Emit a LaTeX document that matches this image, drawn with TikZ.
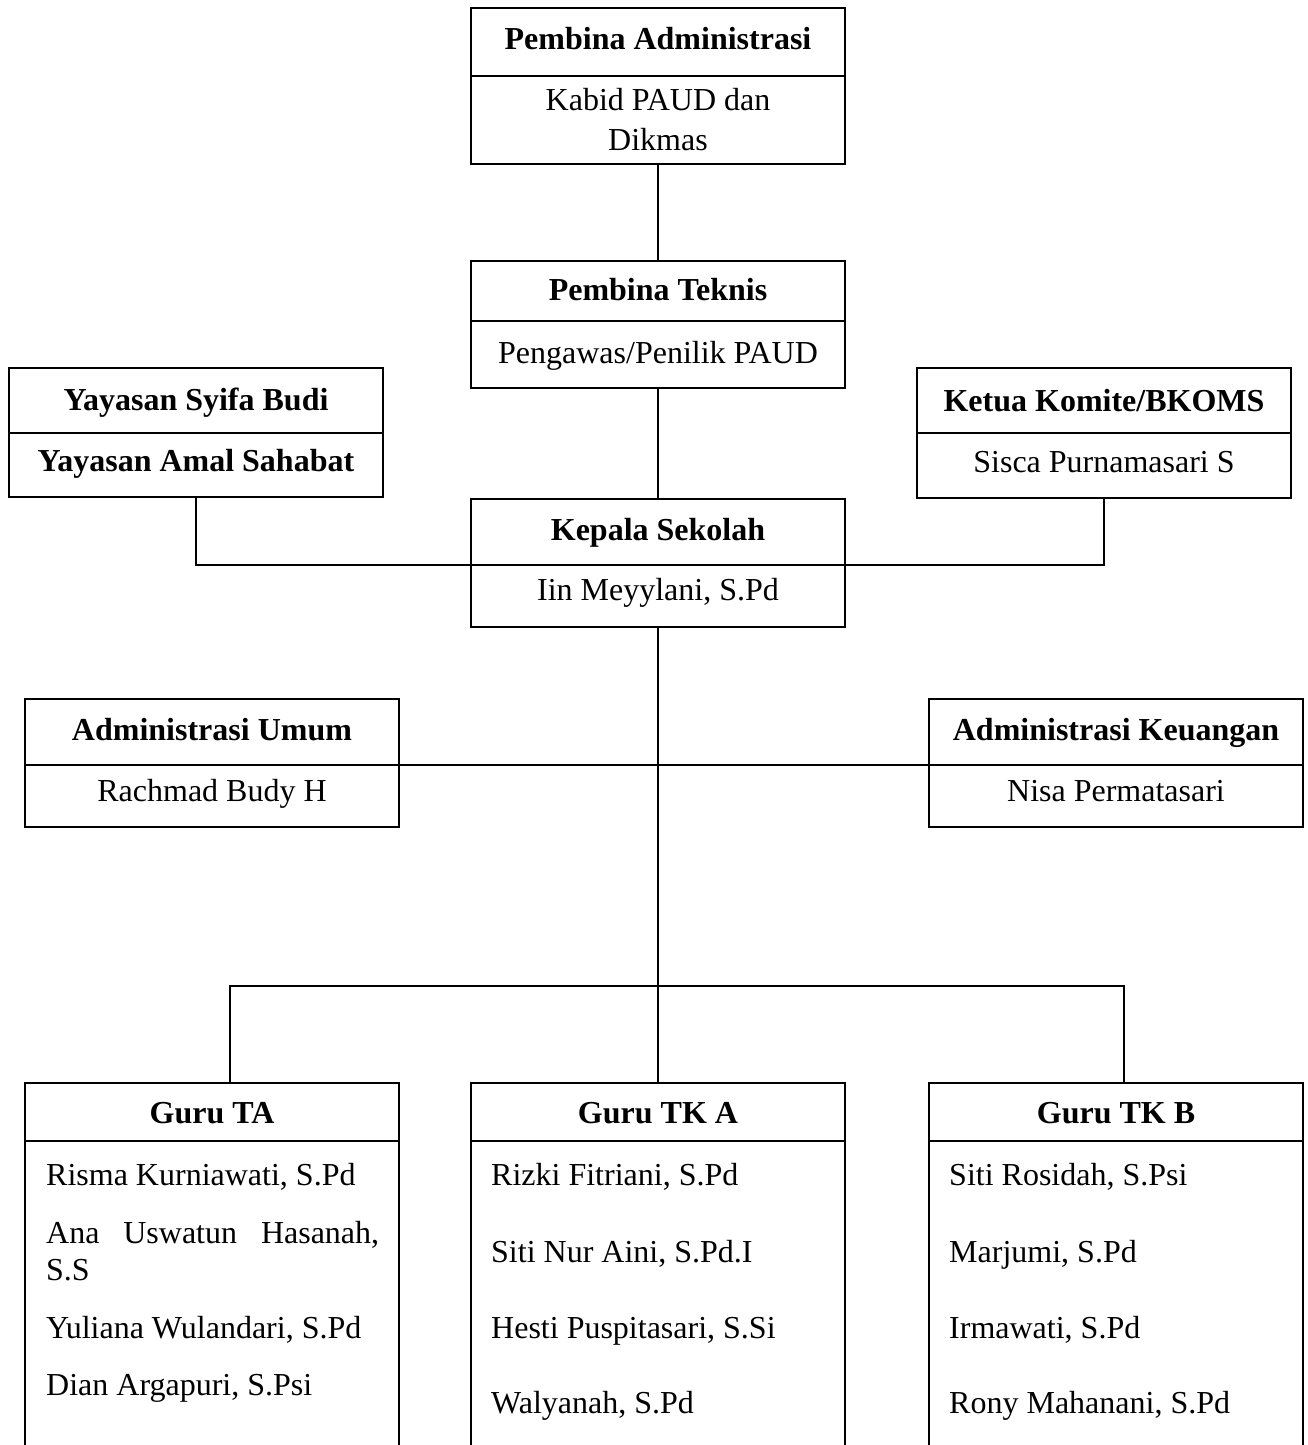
\documentclass[tikz,border=0pt]{standalone}
\usepackage{fontspec}
\setmainfont{Liberation Serif}
\begin{document}
\begin{tikzpicture}[x=1pt,y=-1pt,
  every node/.style={font=\fontsize{32}{40}\selectfont},
  cell/.style={draw, line width=1.2pt, minimum width=374pt, inner sep=0pt, outer sep=0pt},
  ttl/.style={anchor=base, inner sep=0pt, font=\fontsize{32}{40}\selectfont\bfseries},
  txt/.style={anchor=base, inner sep=0pt},
  ltxt/.style={anchor=base west, inner sep=0pt},
  conn/.style={line width=1.2pt}]
\clip (0,0) rectangle (1308,1445);
\useasboundingbox (0,0) rectangle (1308,1445);

% Pembina Administrasi
\node[cell, minimum height=68pt] (pa) at (658,42) {};
\node[cell, minimum height=88pt] (pab) at (658,120) {};
\node[ttl] (paT) at (658,49) {Pembina Administrasi};
\node[txt] (paL1) at (658,110) {Kabid PAUD dan};
\node[txt] (paL2) at (658,150) {Dikmas};

% Pembina Teknis
\node[cell, minimum height=60pt] (pt) at (658,291) {};
\node[cell, minimum height=67pt] (ptb) at (658,354.5) {};
\node[ttl] (ptT) at (658,300) {Pembina Teknis};
\node[txt] (ptL) at (658,363) {Pengawas/Penilik PAUD};

% Yayasan
\node[cell, minimum height=65pt] (y) at (196,400.5) {};
\node[cell, minimum height=64pt] (yb) at (196,465) {};
\node[ttl] (yT) at (196,410) {Yayasan Syifa Budi};
\node[ttl] (yL) at (196,471) {Yayasan Amal Sahabat};

% Ketua Komite
\node[cell, minimum height=65pt] (k) at (1104,400.5) {};
\node[cell, minimum height=65pt] (kb) at (1104,465.5) {};
\node[ttl] (kT) at (1104,411) {Ketua Komite/BKOMS};
\node[txt] (kL) at (1104,472) {Sisca Purnamasari S};

% Kepala Sekolah
\node[cell, minimum height=66pt] (ks) at (658,532) {};
\node[cell, minimum height=62pt] (ksb) at (658,596) {};
\node[ttl] (ksT) at (658,540) {Kepala Sekolah};
\node[txt] (ksL) at (658,600) {Iin Meyylani, S.Pd};

% Administrasi Umum
\node[cell, minimum height=66pt] (au) at (212,732) {};
\node[cell, minimum height=62pt] (aub) at (212,796) {};
\node[ttl] (auT) at (212,740) {Administrasi Umum};
\node[txt] (auL) at (212,801) {Rachmad Budy H};

% Administrasi Keuangan
\node[cell, minimum height=66pt] (ak) at (1116,732) {};
\node[cell, minimum height=62pt] (akb) at (1116,796) {};
\node[ttl] (akT) at (1116,740) {Administrasi Keuangan};
\node[txt] (akL) at (1116,801) {Nisa Permatasari};

% Guru TA
\node[cell, minimum height=58pt] (gta) at (212,1112) {};
\node[cell, minimum height=330pt] (gtab) at (212,1306) {};
\node[ttl] (gtaT) at (212,1123) {Guru TA};
\node[ltxt] (ta1) at (46,1185) {Risma Kurniawati, S.Pd};
\node[ltxt] (ta2) at (46,1243) {\makebox[333pt][s]{Ana Uswatun Hasanah,}};
\node[ltxt] (ta2b) at (46,1280) {S.S};
\node[ltxt] (ta3) at (46,1338) {Yuliana Wulandari, S.Pd};
\node[ltxt] (ta4) at (46,1395) {Dian Argapuri, S.Psi};

% Guru TK A
\node[cell, minimum height=58pt] (gtka) at (658,1112) {};
\node[cell, minimum height=330pt] (gtkab) at (658,1306) {};
\node[ttl] (gtkaT) at (658,1123) {Guru TK A};
\node[ltxt] (tka1) at (491,1185) {Rizki Fitriani, S.Pd};
\node[ltxt] (tka2) at (491,1262) {Siti Nur Aini, S.Pd.I};
\node[ltxt] (tka3) at (491,1338) {Hesti Puspitasari, S.Si};
\node[ltxt] (tka4) at (491,1413) {Walyanah, S.Pd};

% Guru TK B
\node[cell, minimum height=58pt] (gtkb) at (1116,1112) {};
\node[cell, minimum height=330pt] (gtkbb) at (1116,1306) {};
\node[ttl] (gtkbT) at (1116,1123) {Guru TK B};
\node[ltxt] (tkb1) at (949,1185) {Siti Rosidah, S.Psi};
\node[ltxt] (tkb2) at (949,1262) {Marjumi, S.Pd};
\node[ltxt] (tkb3) at (949,1338) {Irmawati, S.Pd};
\node[ltxt] (tkb4) at (949,1413) {Rony Mahanani, S.Pd};

% connectors
\draw[conn] (pab.south) -- (pt.north);
\draw[conn] (ptb.south) -- (ks.north);
\draw[conn] (yb.south) -- (yb.south |- ks.south) -- (kb.south |- ks.south) -- (kb.south);
\draw[conn] (au.south east) -- (ak.south west);
\draw[conn] (ksb.south) -- (gtka.north);
\coordinate (bus) at (658,986);
\coordinate (taTop) at (230,1083);
\coordinate (tkbTop) at (1124,1083);
\draw[conn] (taTop) -- (taTop |- bus) -- (tkbTop |- bus) -- (tkbTop);
\end{tikzpicture}
\end{document}
